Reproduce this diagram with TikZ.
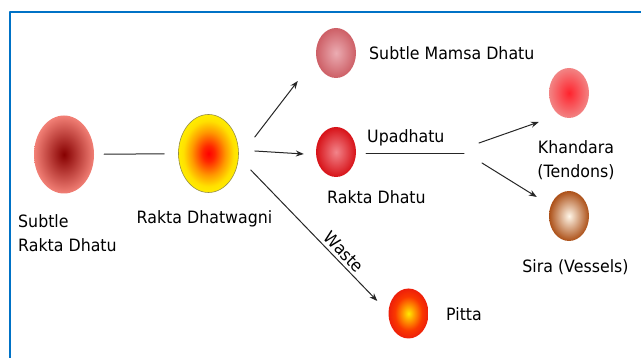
\documentclass[tikz,border=0pt]{standalone}
\usepackage{fontspec}
\setmainfont{DejaVu Sans}[FakeStretch=0.93]
\usetikzlibrary{shapes.geometric, arrows.meta}
\definecolor{framecol}{RGB}{0,114,198}
\definecolor{subin}{RGB}{135,0,0}
\definecolor{subout}{RGB}{242,128,118}
\definecolor{mamsain}{RGB}{235,172,178}
\definecolor{mamsaout}{RGB}{205,95,102}
\definecolor{raktain}{RGB}{242,132,138}
\definecolor{raktaout}{RGB}{215,18,24}
\definecolor{khandin}{RGB}{255,35,45}
\definecolor{khandout}{RGB}{242,132,132}
\definecolor{sirain}{RGB}{255,246,232}
\definecolor{siraout}{RGB}{172,80,24}
\definecolor{agniline}{RGB}{150,140,70}
\pgfdeclareradialshading{agnishade}{\pgfpoint{0bp}{0bp}}{rgb(0bp)=(1,0,0); rgb(5bp)=(1,0.15,0); rgb(14bp)=(1,0.6,0); rgb(21bp)=(1,0.88,0); rgb(25bp)=(1,0.93,0); rgb(50bp)=(1,0.93,0)}
\pgfdeclareradialshading{pittashade}{\pgfpoint{0bp}{0bp}}{rgb(0bp)=(1,0.92,0); rgb(7bp)=(1,0.62,0); rgb(17bp)=(0.98,0.22,0); rgb(25bp)=(0.93,0.12,0.04); rgb(50bp)=(0.93,0.12,0.04)}
\begin{document}
\begin{tikzpicture}[x=1pt, y=-1pt, font=\fontsize{17}{24.5}\selectfont, line join=round, line cap=round, >={Stealth[length=8pt,width=6pt]},
    ball/.style={ellipse, minimum width=40, minimum height=50, inner sep=0pt},
    bigball/.style={ellipse, minimum width=60, minimum height=78, inner sep=0pt},
    link/.style={draw=black!85, line width=1pt},
    lbl/.style={inner sep=0pt}]
    \useasboundingbox (0,0) rectangle (641,358);
    \draw[framecol, line width=1.5pt] (10,358) -- (10,12) -- (641,12);
    % spheres
    \node[bigball, inner color=subin, outer color=subout] (sub) at (64,154.5) {};
    \node[bigball, draw=agniline, line width=0.6pt, shading=agnishade] (agni) at (208.5,153.5) {};
    \node[ball, inner color=mamsain, outer color=mamsaout] (mamsa) at (336,53) {};
    \node[ball, inner color=raktain, outer color=raktaout] (rakta) at (336,152) {};
    \node[ball, inner color=khandin, outer color=khandout] (khandara) at (569,93) {};
    \node[ball, inner color=sirain, outer color=siraout] (sira) at (569,216) {};
    \node[ball, shading=pittashade] (pitta) at (408.5,313.5) {};
    % labels
    \node[lbl, anchor=north west, align=left] (sublbl) at (18,214) {Subtle\\Rakta Dhatu};
    \node[lbl, anchor=base] (agnilbl) at (204.5,224) {Rakta Dhatwagni};
    \node[lbl, anchor=base west] (mamsalbl) at (369,60) {Subtle Mamsa Dhatu};
    \node[lbl, anchor=base west] (upalbl) at (367,143) {Upadhatu};
    \node[lbl, anchor=base west] (raktalbl) at (327,204) {Rakta Dhatu};
    \node[lbl, anchor=north, align=center] (khlbl) at (576,140) {Khandara\\(Tendons)};
    \node[lbl, anchor=base] (siralbl) at (575.5,273) {Sira (Vessels)};
    \node[lbl, anchor=base west] (pittalbl) at (446,321) {Pitta};
    % connectors
    \coordinate (fork) at (464,154);
    \draw[link, shorten <=10pt, shorten >=14pt] (sub) -- (agni);
    \draw[link,->] ([xshift=16pt,yshift=16.5pt]agni.east) -- ([xshift=-18pt,yshift=-28pt]mamsa.west);
    \draw[link,->] ([xshift=16pt,yshift=2.5pt]agni.east) -- ([xshift=-12pt,yshift=-2pt]rakta.west);
    \draw[link,->] ([xshift=12pt,yshift=-16.5pt]agni.east) -- node[pos=.68, sloped, above] (wastelbl) {Waste} ([xshift=-11pt,yshift=12.5pt]pitta.west);
    \draw[link] ([xshift=10pt,yshift=-2pt]rakta.east) -- (fork);
    \draw[link,->] ([xshift=15pt,yshift=11pt]fork) -- ([xshift=-10pt,yshift=-29pt]khandara.west);
    \draw[link,->] ([xshift=18pt,yshift=-9pt]fork) -- ([xshift=-12pt,yshift=19pt]sira.west);
\end{tikzpicture}
\end{document}
